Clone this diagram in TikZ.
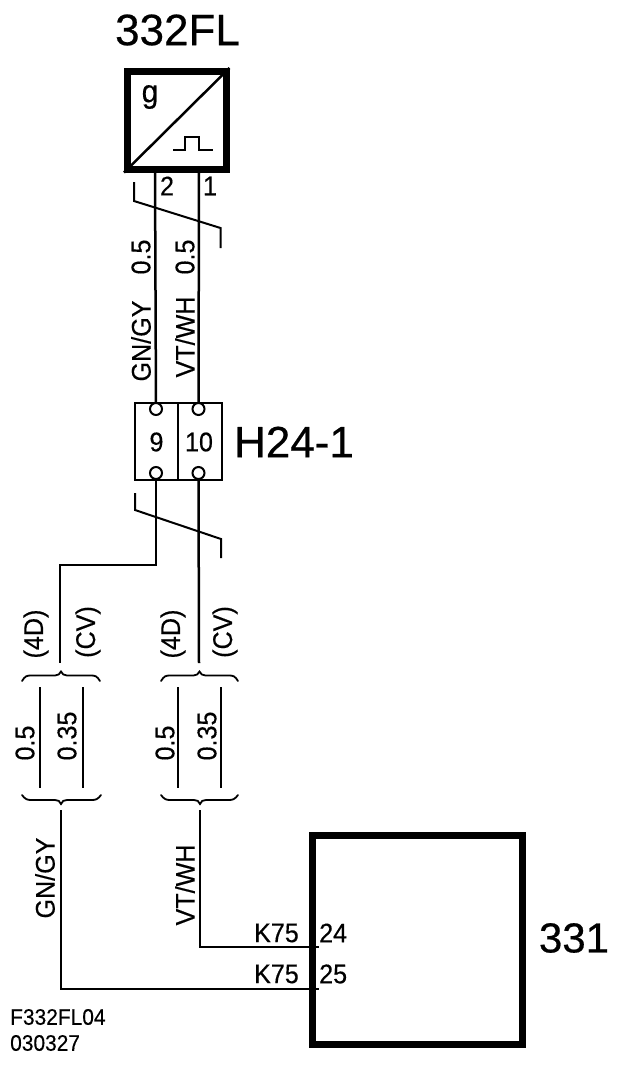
\documentclass[tikz,border=0pt]{standalone}
\usepackage{fontspec}
\setmainfont{Liberation Sans}
\newfontfamily\labfont[FakeBold=0.35,FakeStretch=0.93]{Liberation Sans}
\newfontfamily\bigfont[FakeBold=0.5]{Liberation Sans}
\tikzset{
  heavybox/.style={draw=black,line width=7pt,fill=none,inner sep=0pt},
  wire/.style={draw=black,line width=2.5pt,line join=miter},
  thinwire/.style={draw=black,line width=2pt,line join=miter},
  slash/.style={draw=black,line width=2pt},
  pin/.style={circle,draw=black,line width=2pt,fill=white,minimum size=12pt,inner sep=0pt},
  big/.style={inner sep=0pt,font=\bigfont\fontsize{44}{44}\selectfont},
  lab/.style={inner sep=0pt,font=\labfont\fontsize{27}{27}\selectfont},
  vlab/.style={lab,rotate=90},
  note/.style={inner sep=0pt,anchor=west,font=\labfont\fontsize{22.5}{22.5}\selectfont},
  branch/.style={draw=black,line width=1.8pt,line cap=round}
}
\newcommand{\topbrace}[3]{% left, tip x, right
  \draw[branch] (#1,681) .. controls (#1+3,676) and (#1+5,675.5) .. (#1+9,675.5) -- (#2-6,675.5) .. controls (#2-3,675.5) and (#2-1,674) .. (#2,671.5) .. controls (#2+1,674) and (#2+3,675.5) .. (#2+6,675.5) -- (#3-9,675.5) .. controls (#3-5,675.5) and (#3-3,676) .. (#3,681);}
\newcommand{\botbrace}[3]{%
  \draw[branch] (#1,795) .. controls (#1+3,799) and (#1+5,800) .. (#1+9,800) -- (#2-6,800) .. controls (#2-3,800) and (#2-1,801) .. (#2,804) .. controls (#2+1,801) and (#2+3,800) .. (#2+6,800) -- (#3-9,800) .. controls (#3-5,800) and (#3-3,799) .. (#3,795);}
\begin{document}
\begin{tikzpicture}[x=1pt,y=-1pt]
\useasboundingbox (0,0) rectangle (624,1066);
% sensor 332FL
\node[big] (t332) at (177.5,30) {332FL};
\node[heavybox,minimum width=98.5pt,minimum height=97.5pt] (s332) at (176.75,120.25) {};
\draw[line width=2.5pt] (s332.south west) -- (s332.north east);
\node[inner sep=0pt,font=\labfont\fontsize{32}{32}\selectfont] (gsym) at (150,97) {g};
\draw[line width=2pt] (173,150) -- (185,150) -- (185,137) -- (199,137) -- (199,150) -- (213,150);
% connector H24-1
\node[draw=black,line width=2pt,minimum width=87pt,minimum height=77pt,inner sep=0pt] (h24) at (178.5,441.5) {};
\coordinate (divT) at (178,403); \coordinate (divB) at (178,480);
\draw[line width=2pt] (divT) -- (divB);
\node[pin] (p9a) at (156,409) {};
\node[pin] (p10a) at (198.5,409) {};
\node[pin] (p9b) at (156,473) {};
\node[pin] (p10b) at (198.5,473) {};
\node[lab] (n9) at (156.5,442) {9};
\node[lab] (n10) at (199,442) {10};
\node[big] (th24) at (294,442) {H24-1};
% wires top
\coordinate (s2) at (155,172); \coordinate (s1) at (199,172);
\draw[wire] (s2) -- (p9a);
\draw[wire] (s1) -- (p10a);
\node[lab] (l2) at (167,186) {2};
\node[lab] (l1) at (210,186) {1};
\draw[slash] (134,182) -- (134,201) -- (220.5,228) -- (220.5,248);
\draw[slash] (135,493) -- (135,510) -- (221,539) -- (221,558);
\node[vlab] (a1) at (141,341) {GN/GY};
\node[vlab] (a2) at (141,257) {0.5};
\node[vlab] (a3) at (185,337) {VT/WH};
\node[vlab] (a4) at (185,257) {0.5};
% wires middle
\coordinate (j1) at (60,663); \coordinate (j2) at (199,663);
\draw[wire] (p9b) |- (j1 |- 0,565) -- (j1);
\draw[wire] (p10b) -- (j2);
\node[vlab] (b1) at (36,634) {(4D)};
\node[vlab] (b2) at (88,632) {(CV)};
\node[vlab] (b3) at (173,634) {(4D)};
\node[vlab] (b4) at (225,632) {(CV)};
\topbrace{22}{61}{100}
\topbrace{161}{199.5}{238}
\coordinate (c1a) at (39.5,687); \coordinate (c1b) at (39.5,788);
\coordinate (c2a) at (82.5,687); \coordinate (c2b) at (82.5,788);
\coordinate (c3a) at (178,687); \coordinate (c3b) at (178,788);
\coordinate (c4a) at (221,687); \coordinate (c4b) at (221,788);
\draw[thinwire] (c1a) -- (c1b);
\draw[thinwire] (c2a) -- (c2b);
\draw[thinwire] (c3a) -- (c3b);
\draw[thinwire] (c4a) -- (c4b);
\node[vlab] (d1) at (25,743) {0.5};
\node[vlab] (d2) at (67,736) {0.35};
\node[vlab] (d3) at (165,743) {0.5};
\node[vlab] (d4) at (207,736) {0.35};
\botbrace{22}{61}{101}
\botbrace{161}{200}{238}
% ECU 331
\node[heavybox,minimum width=209.5pt,minimum height=209pt] (e331) at (417.25,940) {};
\node[big,font=\bigfont\fontsize{42}{42}\selectfont] (t331) at (574,938) {331};
\coordinate (w1) at (61,810); \coordinate (w2) at (200,810);
\coordinate (t24) at (319,947); \coordinate (t25) at (319,988.5);
\draw[thinwire] (w1) |- (t25);
\draw[wire] (w2) |- (t24);
\node[vlab] (g1) at (45,878) {GN/GY};
\node[vlab] (g2) at (185,885) {VT/WH};
\node[lab,anchor=east] (k1) at (299,933) {K75};
\node[lab,anchor=east] (k2) at (299,974) {K75};
\node[lab,anchor=west] (n24) at (319,933) {24};
\node[lab,anchor=west] (n25) at (319,974) {25};
\node[note] (f1) at (10,1017) {F332FL04};
\node[note] (f2) at (10,1043) {030327};
\end{tikzpicture}
\end{document}
